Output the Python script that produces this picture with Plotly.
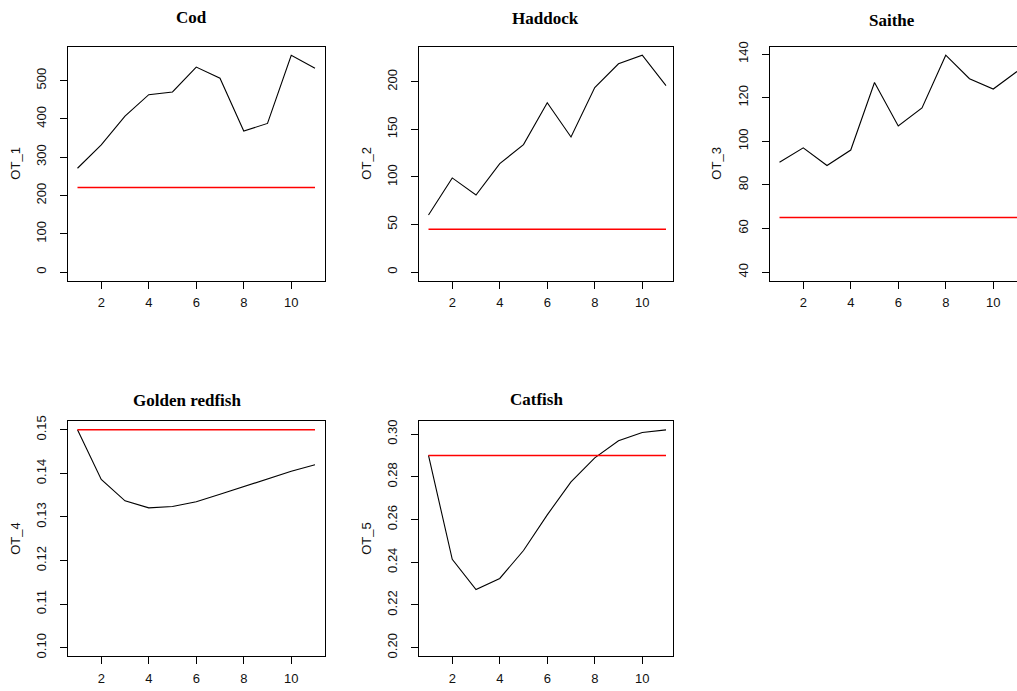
import plotly.graph_objects as go

# ---------------- data ----------------
years = list(range(1, 12))
cod = [271, 332, 407, 463, 470, 535, 506, 368, 388, 566, 532]
haddock = [60, 99, 81, 114, 134, 178, 142, 194, 219, 228, 196]
saithe = [90.4, 97, 88.9, 96, 127, 107, 115.3, 139.5, 128.7, 124, 132]
golden_redfish = [0.150, 0.1386, 0.1337, 0.1321, 0.1324, 0.1335, 0.1352, 0.1370, 0.1388, 0.1405, 0.1420]
catfish = [0.290, 0.2414, 0.2272, 0.2324, 0.2455, 0.2622, 0.2776, 0.2889, 0.2969, 0.3008, 0.3020]

titles = ["Cod", "Haddock", "Saithe", "Golden redfish", "Catfish"]
ylabels = ["OT_1", "OT_2", "OT_3", "OT_4", "OT_5"]
ref_levels = [221, 45, 65, 0.15, 0.29]
x_ticks = [2, 4, 6, 8, 10]
y_ticks = [
    [0, 100, 200, 300, 400, 500],
    [0, 50, 100, 150, 200],
    [40, 60, 80, 100, 120, 140],
    [0.10, 0.11, 0.12, 0.13, 0.14, 0.15],
    [0.20, 0.22, 0.24, 0.26, 0.28, 0.30],
]
y_limits = [(0, 566), (0, 228), (40, 139.5), (0.10, 0.15), (0.20, 0.302)]
y_formats = ["d", "d", "d", ".2f", ".2f"]
series = [cod, haddock, saithe, golden_redfish, catfish]

# ---------------- layout geometry (pixels) ----------------
W, H = 1017, 691
box_x = [(68, 324.5), (419, 673), (770, 1017), (68, 324.5), (419, 673)]
box_y = [(41, 278), (41, 278), (41, 278), (420, 658), (420, 658)]
title_pos = [(191, 11.5), (545, 13), (892, 14.5), (187, 399.5), (536, 398.5)]
ylab_x = [16, 367, 717, 16, 367]

def px_x(p):
    return p / W

def px_y(p):
    return 1 - p / H

fig = go.Figure()
layout = dict(
    width=W, height=H,
    margin=dict(l=0, r=0, t=0, b=0),
    paper_bgcolor="white", plot_bgcolor="white",
    showlegend=False,
    annotations=[],
)

tick_font = dict(family="Liberation Sans, Arial, sans-serif", size=13, color="#111111")
full_w = 324.5 - 68

for i in range(5):
    k = "" if i == 0 else str(i + 1)
    xa, ya = "x" + k, "y" + k
    fig.add_trace(go.Scatter(x=years, y=series[i], mode="lines",
                             line=dict(color="black", width=1.1),
                             xaxis=xa, yaxis=ya, hoverinfo="skip"))
    fig.add_trace(go.Scatter(x=years, y=[ref_levels[i]] * len(years), mode="lines",
                             line=dict(color="#ff0000", width=1.5),
                             xaxis=xa, yaxis=ya, hoverinfo="skip"))
    x0, x1 = box_x[i]
    y0, y1 = box_y[i]
    xr = [0.6, 0.6 + 10.8 * (x1 - x0) / full_w]
    lo, hi = y_limits[i]
    d = 0.04 * (hi - lo)
    layout["xaxis" + k] = dict(
        domain=[px_x(x0), px_x(x1)], range=xr, anchor=ya,
        tickvals=x_ticks, ticks="outside", ticklen=7, tickwidth=1, tickcolor="black",
        showline=True, linecolor="black", linewidth=1, mirror=True,
        showgrid=False, zeroline=False, tickfont=tick_font, ticklabelstandoff=3,
    )
    layout["yaxis" + k] = dict(
        domain=[px_y(y1), px_y(y0)], range=[lo - d, hi + d], anchor=xa,
        tickvals=y_ticks[i], tickformat=y_formats[i], tickangle=-90,
        ticks="outside", ticklen=7, tickwidth=1, tickcolor="black",
        showline=True, linecolor="black", linewidth=1, mirror=(i != 2),
        showgrid=False, zeroline=False, tickfont=tick_font, ticklabelstandoff=9,
    )
    tx, ty = title_pos[i]
    layout["annotations"].append(dict(
        text="<b>" + titles[i] + "</b>", x=px_x(tx), y=px_y(ty), xref="paper", yref="paper",
        xanchor="center", yanchor="middle", showarrow=False,
        font=dict(family="Liberation Serif, Times New Roman, serif", size=17, color="black"),
    ))
    layout["annotations"].append(dict(
        text=ylabels[i], x=px_x(ylab_x[i]), y=px_y((y0 + y1) / 2), xref="paper", yref="paper",
        xanchor="center", yanchor="middle", showarrow=False, textangle=-90,
        font=dict(family="Liberation Sans, Arial, sans-serif", size=13, color="#111111"),
    ))

fig.update_layout(**layout)
fig.write_html(
    "out.html",
    config={"displayModeBar": False},
    post_script="document.body.style.margin='0';document.body.style.padding='0';"
                "document.body.style.overflow='hidden';",
)
